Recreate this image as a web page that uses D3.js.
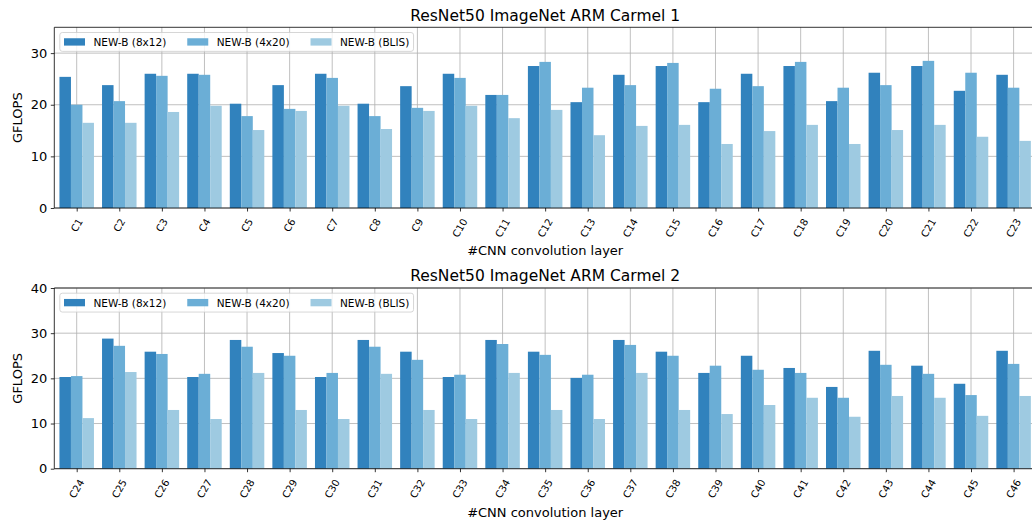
<!DOCTYPE html>
<html>
<head>
<meta charset="utf-8">
<script src="https://cdn.jsdelivr.net/npm/d3@7"></script>
<style>
  html, body { margin: 0; padding: 0; background: #fff; }
  svg { display: block; font-family: "DejaVu Sans", sans-serif; }
</style>
</head>
<body>
<svg id="chart" width="1032" height="522"></svg>
<script>
// Series names and colours (Blues palette)
const seriesNames = ["NEW-B (8x12)", "NEW-B (4x20)", "NEW-B (BLIS)"];
const seriesColors = ["#3182bd", "#6baed6", "#9ecae1"];

// Panel 1: layers C1..C23
const layers1 = ["C1","C2","C3","C4","C5","C6","C7","C8","C9","C10","C11","C12",
                 "C13","C14","C15","C16","C17","C18","C19","C20","C21","C22","C23"];
const gflops1_8x12 = [25.4, 23.8, 26.0, 26.0, 20.2, 23.8, 26.0, 20.2, 23.6, 26.0, 21.9, 27.5,
                      20.5, 25.8, 27.5, 20.5, 26.0, 27.5, 20.7, 26.2, 27.5, 22.7, 25.8];
const gflops1_4x20 = [20.0, 20.7, 25.6, 25.8, 17.8, 19.2, 25.2, 17.8, 19.4, 25.2, 21.9, 28.3,
                      23.3, 23.8, 28.1, 23.1, 23.6, 28.3, 23.3, 23.8, 28.5, 26.2, 23.3];
const gflops1_blis = [16.5, 16.5, 18.6, 19.8, 15.1, 18.8, 19.8, 15.3, 18.8, 19.8, 17.4, 19.0,
                      14.1, 15.9, 16.1, 12.4, 14.9, 16.1, 12.4, 15.1, 16.1, 13.8, 13.0];
const yTicks1 = [0, 10, 20, 30];

// Panel 2: layers C24..C46
const layers2 = ["C24","C25","C26","C27","C28","C29","C30","C31","C32","C33","C34","C35",
                 "C36","C37","C38","C39","C40","C41","C42","C43","C44","C45","C46"];
const gflops2_8x12 = [20.3, 28.8, 25.9, 20.3, 28.5, 25.6, 20.3, 28.5, 25.9, 20.3, 28.5, 25.9,
                      20.1, 28.5, 25.9, 21.2, 25.0, 22.3, 18.1, 26.1, 22.8, 18.8, 26.1];
const gflops2_4x20 = [20.5, 27.2, 25.4, 21.0, 27.0, 25.0, 21.2, 27.0, 24.1, 20.8, 27.6, 25.2,
                      20.8, 27.4, 25.0, 22.8, 21.9, 21.2, 15.7, 23.0, 21.0, 16.3, 23.2];
const gflops2_blis = [11.2, 21.4, 13.0, 11.0, 21.2, 13.0, 11.0, 21.0, 13.0, 11.0, 21.2, 13.0,
                      11.0, 21.2, 13.0, 12.1, 14.1, 15.7, 11.5, 16.1, 15.7, 11.7, 16.1];
const yTicks2 = [0, 10, 20, 30, 40];

const panels = [
  { title: "ResNet50 ImageNet ARM Carmel 1", layers: layers1,
    series: [gflops1_8x12, gflops1_4x20, gflops1_blis], yMax: 35, yTicks: yTicks1,
    top: 27.3, bottom: 208, titleY: 20.7, xlabelY: 254.5 },
  { title: "ResNet50 ImageNet ARM Carmel 2", layers: layers2,
    series: [gflops2_8x12, gflops2_4x20, gflops2_blis], yMax: 40, yTicks: yTicks2,
    top: 288, bottom: 468.7, titleY: 280.7, xlabelY: 516.5 }
];

const svg = d3.select("#chart");
const left = 54.3, right = 1036;
const barW = 0.27;
const gridColor = "#b0b0b0";

panels.forEach((p, pi) => {
  const n = p.layers.length;
  const x = d3.scaleLinear().domain([-0.526, n - 1 + 0.526]).range([left, right]);
  const y = d3.scaleLinear().domain([0, p.yMax]).range([p.bottom, p.top]);
  const g = svg.append("g");

  const clipId = "clip" + pi;
  svg.append("clipPath").attr("id", clipId)
    .append("rect").attr("x", left).attr("y", p.top)
    .attr("width", right - left).attr("height", p.bottom - p.top);

  // grid lines (beneath bars)
  const grid = g.append("g");
  grid.selectAll("line.gy").data(p.yTicks).join("line")
    .attr("x1", left).attr("x2", right)
    .attr("y1", d => y(d)).attr("y2", d => y(d))
    .attr("stroke", gridColor).attr("stroke-width", 0.8);
  grid.selectAll("line.gx").data(d3.range(n)).join("line")
    .attr("x1", d => x(d)).attr("x2", d => x(d))
    .attr("y1", p.top).attr("y2", p.bottom)
    .attr("stroke", gridColor).attr("stroke-width", 0.8);

  // bars
  const bars = g.append("g").attr("clip-path", `url(#${clipId})`);
  p.series.forEach((vals, si) => {
    const off = (si - 1) * barW;
    bars.selectAll(null).data(vals).join("rect")
      .attr("x", (d, i) => x(i + off - barW / 2))
      .attr("width", (d, i) => x(i + off + barW / 2) - x(i + off - barW / 2))
      .attr("y", d => y(d))
      .attr("height", d => y(0) - y(d))
      .attr("fill", seriesColors[si]);
  });

  // axes
  const yAxis = d3.axisLeft(y).tickValues(p.yTicks).tickSize(3.5).tickPadding(3.5).tickFormat(d3.format("d"));
  const ya = g.append("g").attr("transform", `translate(${left},0)`).call(yAxis);
  ya.select(".domain").remove();
  ya.selectAll("line").attr("stroke", "#000").attr("stroke-width", 0.8);
  ya.selectAll("text").attr("font-size", 13).attr("fill", "#000")
    .attr("font-family", "DejaVu Sans");

  const xAxis = d3.axisBottom(x).tickValues(d3.range(n)).tickSize(3.5).tickFormat(() => "");
  const xa = g.append("g").attr("transform", `translate(0,${p.bottom})`).call(xAxis);
  xa.select(".domain").remove();
  xa.selectAll("line").attr("stroke", "#000").attr("stroke-width", 0.8);

  // rotated tick labels
  const rot = 60, fs = 10;
  const lab = g.append("g");
  p.layers.forEach((name, i) => {
    const t = lab.append("text").text(name)
      .attr("font-size", fs).attr("fill", "#000")
      .attr("text-anchor", "middle").attr("dominant-baseline", "central");
    const w = t.node().getComputedTextLength();
    const h = fs * 1.0;
    const a = rot * Math.PI / 180;
    const H = w * Math.sin(a) + h * Math.cos(a);
    const cy = p.bottom + 9 + H / 2;
    t.attr("transform", `translate(${x(i)},${cy}) rotate(${-rot})`);
  });

  // spines
  g.append("line").attr("x1", left).attr("x2", left).attr("y1", p.top).attr("y2", p.bottom)
    .attr("stroke", "#000").attr("stroke-width", 0.8);
  g.append("line").attr("x1", left).attr("x2", right).attr("y1", p.top).attr("y2", p.top)
    .attr("stroke", "#000").attr("stroke-width", 0.8);
  g.append("line").attr("x1", left).attr("x2", right).attr("y1", p.bottom).attr("y2", p.bottom)
    .attr("stroke", "#000").attr("stroke-width", 0.8);
  g.append("line").attr("x1", right).attr("x2", right).attr("y1", p.top).attr("y2", p.bottom)
    .attr("stroke", "#000").attr("stroke-width", 0.8);

  // title and axis labels
  const cx = (left + right) / 2;
  g.append("text").attr("x", cx).attr("y", p.titleY).attr("text-anchor", "middle")
    .attr("font-size", 15.5).attr("fill", "#000").text(p.title);
  g.append("text").attr("x", cx).attr("y", p.xlabelY).attr("text-anchor", "middle")
    .attr("font-size", 13).attr("fill", "#000").text("#CNN convolution layer");
  g.append("text")
    .attr("transform", `translate(21.5,${(p.top + p.bottom) / 2}) rotate(-90)`)
    .attr("text-anchor", "middle").attr("font-size", 13).attr("fill", "#000").text("GFLOPS");

  // legend (3 columns, upper left)
  const lfs = 10.5;
  const lx = left + 5.5, ly = p.top + 5.2;
  const leg = g.append("g");
  const frame = leg.append("rect").attr("x", lx).attr("y", ly).attr("rx", 2.5).attr("ry", 2.5)
    .attr("fill", "#fff").attr("fill-opacity", 0.8).attr("stroke", "#cccccc").attr("stroke-width", 0.8);
  let cxp = lx + 0.4 * lfs;
  const rowMid = ly + 0.4 * lfs + lfs * 0.45 + 0.5;
  seriesNames.forEach((name, si) => {
    leg.append("rect").attr("x", cxp).attr("y", rowMid - 0.35 * lfs)
      .attr("width", 2 * lfs).attr("height", 0.7 * lfs).attr("fill", seriesColors[si]);
    const tx = cxp + 2 * lfs + 0.8 * lfs;
    const t = leg.append("text").attr("x", tx).attr("y", rowMid)
      .attr("dominant-baseline", "central").attr("font-size", lfs).attr("fill", "#000").text(name);
    const tw = t.node().getComputedTextLength();
    cxp = tx + tw + (si < seriesNames.length - 1 ? 2 * lfs : 0);
  });
  frame.attr("width", cxp + 0.4 * lfs - lx).attr("height", 2 * (rowMid - ly));
});
</script>
</body>
</html>
